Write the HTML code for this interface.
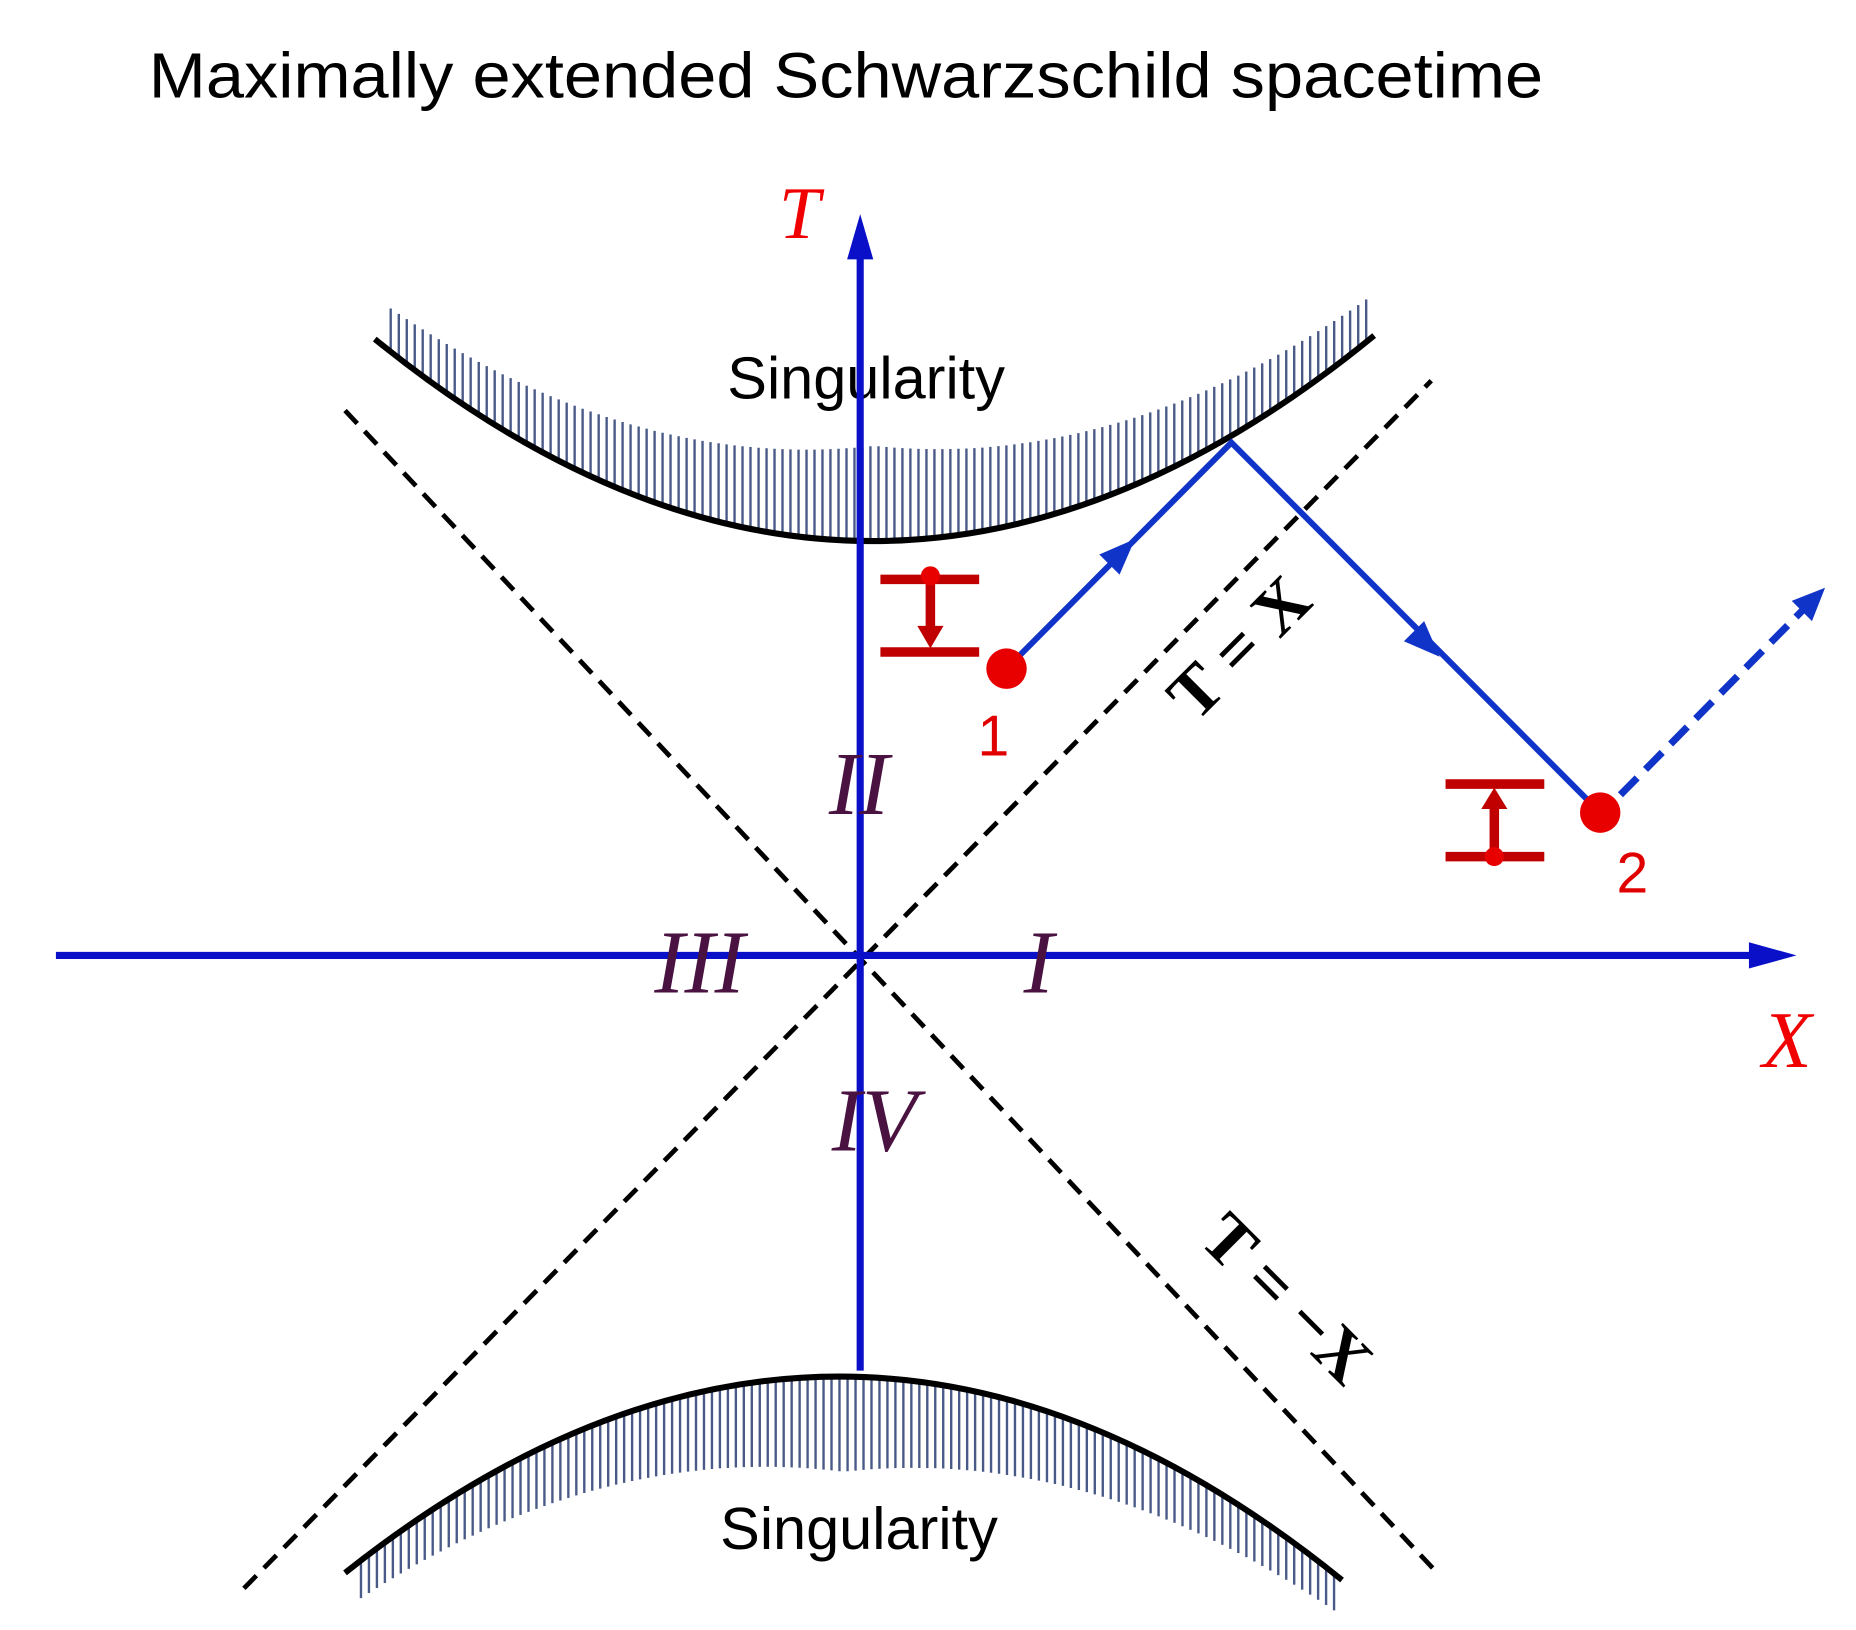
<!DOCTYPE html>
<html><head><meta charset="utf-8"><style>
html,body{margin:0;padding:0;background:#fff;}
svg{display:block;}
</style></head><body>
<svg id="s" width="1856" height="1630" viewBox="0 0 1560 1370" preserveAspectRatio="none" xmlns="http://www.w3.org/2000/svg">
<rect width="1560" height="1370" fill="#fff"/>
<text x="125" y="82" font-family="Liberation Sans, sans-serif" font-size="54" textLength="1172" lengthAdjust="spacingAndGlyphs" fill="#000">Maximally extended Schwarzschild spacetime</text>
<g id="hatch" stroke="#4a5a88" stroke-width="2"></g>
<!-- dashed lines -->
<line x1="205" y1="1335" x2="1203" y2="320" stroke="#000" stroke-width="4" stroke-dasharray="15,9"/>
<line x1="290" y1="345" x2="1208" y2="1322" stroke="#000" stroke-width="4" stroke-dasharray="15,9"/>
<!-- singularity curves -->
<path d="M315,285 Q735,626 1155,282" fill="none" stroke="#000" stroke-width="5"/>
<path d="M290,1322 Q709,989 1128,1328" fill="none" stroke="#000" stroke-width="5"/>
<text x="728" y="335" text-anchor="middle" font-family="Liberation Sans, sans-serif" font-size="50" fill="#000">Singularity</text>
<text x="722" y="1302" text-anchor="middle" font-family="Liberation Sans, sans-serif" font-size="50" fill="#000">Singularity</text>
<!-- axes -->
<line x1="47" y1="803" x2="1485" y2="803" stroke="#0a10c8" stroke-width="6"/>
<polygon points="1510,803 1470,792 1470,814" fill="#0a10c8"/>
<line x1="723" y1="1152" x2="723" y2="210" stroke="#0a10c8" stroke-width="6"/>
<polygon points="723,180 712,218 734,218" fill="#0a10c8"/>
<text x="672" y="200" text-anchor="middle" font-family="Liberation Serif, serif" font-style="italic" font-size="62" fill="#f00000">T</text>
<text x="1502" y="897" text-anchor="middle" font-family="Liberation Serif, serif" font-style="italic" font-size="68" fill="#f00000">X</text>
<!-- region labels -->
<g font-family="Liberation Serif, serif" font-style="italic" font-size="76" fill="#4a1240" text-anchor="middle">
<text x="722" y="684">II</text>
<text x="588" y="834">III</text>
<text x="873" y="834">I</text>
<text x="735" y="967">IV</text>
</g>
<!-- T=X labels -->
<text transform="translate(1055,558) rotate(-45)" text-anchor="middle" font-family="Liberation Serif, serif" font-weight="bold" font-size="58" fill="#000">T = X</text>
<text transform="translate(1068,1105) rotate(45)" text-anchor="middle" font-family="Liberation Serif, serif" font-weight="bold" font-size="58" fill="#000">T = −X</text>
<!-- worldline -->
<polyline points="846,562 1035,372 1345,683" fill="none" stroke="#1034c8" stroke-width="5"/>
<polygon points="954,453 924,466 941,483" fill="#1034c8"/>
<polygon points="1210,552 1180,539 1197,522" fill="#1034c8"/>
<line x1="1362" y1="668" x2="1520" y2="508" stroke="#1034c8" stroke-width="6" stroke-dasharray="20,10"/>
<polygon points="1534,494 1506,505 1523,522" fill="#1034c8"/>
<!-- points -->
<circle cx="846" cy="562" r="17" fill="#e80000"/>
<circle cx="1345" cy="683" r="17" fill="#e80000"/>
<text x="835" y="635" text-anchor="middle" font-family="Liberation Sans, sans-serif" font-size="48" fill="#e00000">1</text>
<text x="1372" y="750" text-anchor="middle" font-family="Liberation Sans, sans-serif" font-size="48" fill="#e00000">2</text>
<!-- clocks -->
<g stroke="#c00000" stroke-width="8" fill="none">
<line x1="740" y1="487" x2="823" y2="487"/><line x1="740" y1="548" x2="823" y2="548"/>
<line x1="782" y1="487" x2="782" y2="530"/>
<line x1="1215" y1="659" x2="1298" y2="659"/><line x1="1215" y1="720" x2="1298" y2="720"/>
<line x1="1256" y1="720" x2="1256" y2="677"/>
</g>
<circle cx="782" cy="484" r="8" fill="#e80000"/>
<polygon points="771,526 793,526 782,545" fill="#c00000"/>
<circle cx="1256" cy="720" r="8" fill="#e80000"/>
<polygon points="1245,680 1267,680 1256,662" fill="#c00000"/>
</svg>
<script>
(function(){
var g=document.getElementById('hatch'),h='';
function q(p0,c,p2,t){return (1-t)*(1-t)*p0+2*(1-t)*t*c+t*t*p2;}
for(var i=0;i<=125;i++){var t=i/125;var x=q(315,735,1155,t),y=q(285,626,282,t);
 if(x<325||x>1150)continue;
 var d=Math.abs(x-735)/420; var len=80-45*d;
 h+='<line x1="'+x.toFixed(1)+'" y1="'+y.toFixed(1)+'" x2="'+x.toFixed(1)+'" y2="'+(y-len).toFixed(1)+'"/>';}
for(var i=0;i<=125;i++){var t=i/125;var x=q(290,709,1128,t),y=q(1322,989,1328,t);
 if(x<298||x>1122)continue;
 var d=Math.abs(x-709)/420; var len=80-50*d;
 h+='<line x1="'+x.toFixed(1)+'" y1="'+y.toFixed(1)+'" x2="'+x.toFixed(1)+'" y2="'+(y+len).toFixed(1)+'"/>';}
g.innerHTML=h;
})();
</script>
</body></html>
